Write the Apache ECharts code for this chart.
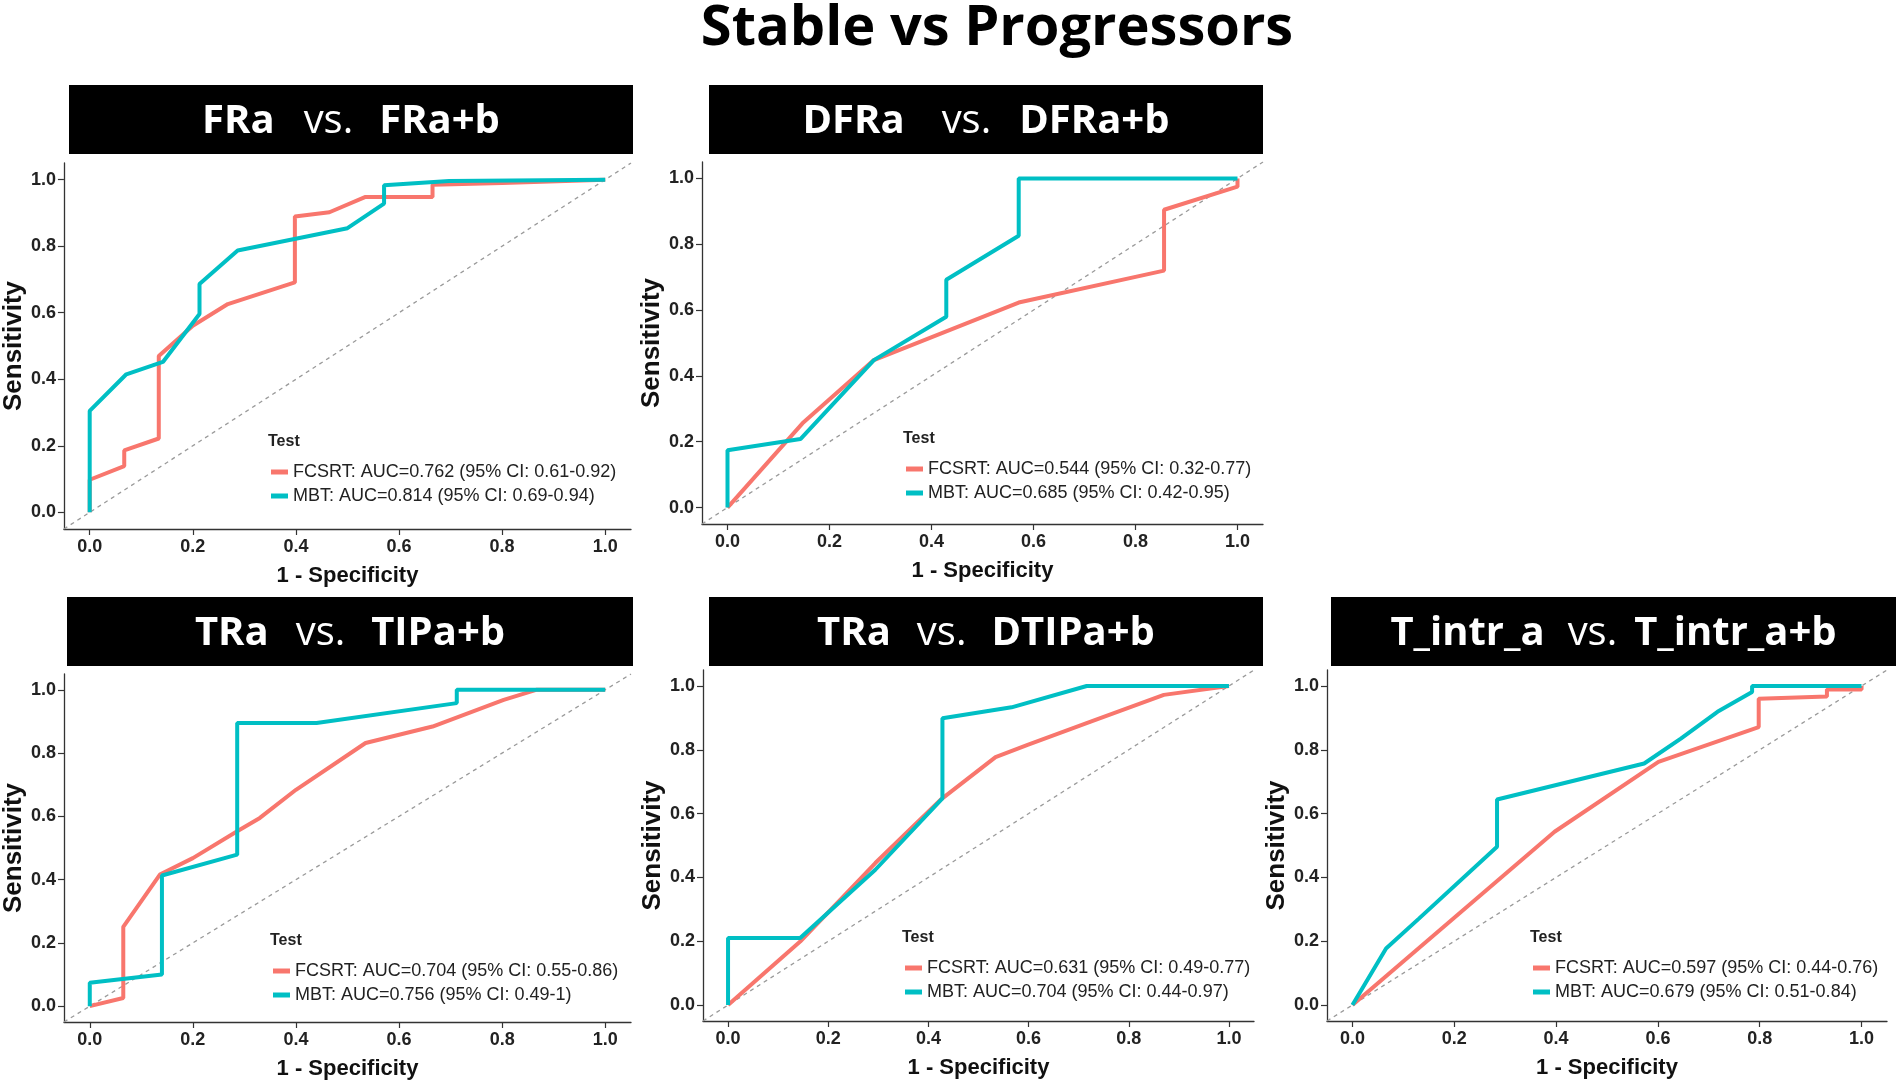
<!DOCTYPE html>
<html>
<head>
<meta charset="utf-8">
<script src="https://cdn.jsdelivr.net/npm/echarts@6/dist/echarts.min.js"></script>
<style>
html, body { margin: 0; padding: 0; background: #fff; }
#chart { width: 1902px; height: 1089px; }
</style>
</head>
<body>
<div id="chart"></div>
<script>
var mainTitle = 'Stable vs Progressors';
var panelLeft = ['FRa', 'DFRa', 'TRa', 'TRa', 'T_intr_a'];
var panelRight = ['FRa+b', 'DFRa+b', 'TIPa+b', 'DTIPa+b', 'T_intr_a+b'];
var fcsrtLabels = [
  'FCSRT: AUC=0.762 (95% CI: 0.61-0.92)',
  'FCSRT: AUC=0.544 (95% CI: 0.32-0.77)',
  'FCSRT: AUC=0.704 (95% CI: 0.55-0.86)',
  'FCSRT: AUC=0.631 (95% CI: 0.49-0.77)',
  'FCSRT: AUC=0.597 (95% CI: 0.44-0.76)'
];
var mbtLabels = [
  'MBT: AUC=0.814 (95% CI: 0.69-0.94)',
  'MBT: AUC=0.685 (95% CI: 0.42-0.95)',
  'MBT: AUC=0.756 (95% CI: 0.49-1)',
  'MBT: AUC=0.704 (95% CI: 0.44-0.97)',
  'MBT: AUC=0.679 (95% CI: 0.51-0.84)'
];
var tickValues = [0, 0.2, 0.4, 0.6, 0.8, 1];
var diagonal = [[-0.05, -0.05], [1.05, 1.05]];

// ROC points [1 - specificity, sensitivity]
var fcsrt1 = [[0,0],[0,0.098],[0.067,0.139],[0.067,0.186],[0.134,0.222],[0.134,0.47],[0.2,0.561],[0.268,0.626],[0.398,0.691],[0.398,0.889],[0.465,0.902],[0.535,0.948],[0.665,0.948],[0.665,0.985],[0.8,0.99],[1,1]];
var mbt1 = [[0,0],[0,0.305],[0.071,0.415],[0.142,0.452],[0.213,0.596],[0.213,0.686],[0.287,0.787],[0.5,0.854],[0.571,0.928],[0.571,0.983],[0.697,0.996],[1,1]];

var fcsrt2 = [[0,0],[0.147,0.256],[0.287,0.448],[0.571,0.623],[0.856,0.72],[0.856,0.905],[1,0.975],[1,1]];
var mbt2 = [[0,0],[0,0.174],[0.143,0.208],[0.287,0.448],[0.429,0.58],[0.429,0.692],[0.571,0.826],[0.571,1],[1,1]];

var fcsrt3 = [[0,0],[0.065,0.026],[0.065,0.251],[0.136,0.416],[0.2,0.468],[0.286,0.553],[0.33,0.595],[0.4,0.684],[0.535,0.832],[0.665,0.884],[0.803,0.968],[0.866,1],[1,1]];
var mbt3 = [[0,0],[0,0.074],[0.14,0.1],[0.14,0.413],[0.286,0.479],[0.286,0.895],[0.44,0.895],[0.712,0.958],[0.712,1],[1,1]];

var fcsrt4 = [[0,0],[0.144,0.199],[0.294,0.445],[0.424,0.643],[0.534,0.777],[0.598,0.815],[0.724,0.888],[0.87,0.972],[1,1]];
var mbt4 = [[0,0],[0,0.21],[0.144,0.21],[0.294,0.424],[0.428,0.648],[0.428,0.899],[0.566,0.933],[0.716,1],[1,1]];

var fcsrt5 = [[0,0],[0.397,0.543],[0.601,0.762],[0.798,0.871],[0.798,0.96],[0.932,0.967],[0.932,0.989],[1,0.989],[1,1]];
var mbt5 = [[0,0],[0.066,0.177],[0.13,0.27],[0.284,0.496],[0.284,0.644],[0.573,0.757],[0.645,0.835],[0.717,0.919],[0.785,0.981],[0.785,1],[1,1]];

var fcsrtData = [fcsrt1, fcsrt2, fcsrt3, fcsrt4, fcsrt5];
var mbtData = [mbt1, mbt2, mbt3, mbt4, mbt5];

var RED = '#F8766D';
var CYAN = '#00BFC4';
var FONT = "'Liberation Sans', Arial, sans-serif";
var HFONT = "'Open Sans', Roboto, 'Liberation Sans', sans-serif";

// panel layout: plot rect, header box, legend anchor, gaps around "vs."
var panels = [
  {left: 61, top: 163, width: 570, height: 366, box: [69, 85, 564, 69], leg: [271, 442], gap: [29, 26]},
  {left: 702, top: 162, width: 561, height: 362, box: [709, 85, 554, 69], leg: [906, 439], gap: [37, 28]},
  {left: 64, top: 674, width: 567, height: 348, box: [67, 597, 566, 69], leg: [273, 941], gap: [27, 26]},
  {left: 703, top: 670, width: 551, height: 351, box: [709, 597, 554, 69], leg: [905, 938], gap: [26, 25]},
  {left: 1327, top: 670, width: 560, height: 351, box: [1331, 597, 565, 69], leg: [1533, 938], gap: [23, 17]}
];

var chart = echarts.init(document.getElementById('chart'), null, {renderer: 'canvas'});

var grid = [], xAxis = [], yAxis = [], series = [], legend = [], graphic = [];

graphic.push({
  type: 'text', x: 997, y: 29,
  style: {text: mainTitle, fontSize: 56, fontWeight: 'bold', fontFamily: HFONT, fill: '#000', align: 'center', verticalAlign: 'middle'}
});

panels.forEach(function (p, i) {
  grid.push({left: p.left, top: p.top, width: p.width, height: p.height, containLabel: false});
  var axisCommon = {
    gridIndex: i, type: 'value', min: -0.05, max: 1.05,
    splitLine: {show: false},
    axisLine: {show: true, onZero: false, lineStyle: {color: '#333', width: 1.3}},
    axisTick: {show: true, length: 6, customValues: tickValues, lineStyle: {color: '#333', width: 1.2}},
    axisLabel: {customValues: tickValues, formatter: function (v) { return v.toFixed(1); },
      fontWeight: 'bold', fontSize: 18, color: '#222', fontFamily: FONT},
    nameLocation: 'middle',
    nameTextStyle: {fontWeight: 'bold', color: '#111', fontFamily: FONT}
  };
  xAxis.push(echarts.util.merge({
    name: '1 - Specificity', nameGap: 36,
    axisLabel: {margin: 9}, nameTextStyle: {fontSize: 22}
  }, axisCommon));
  yAxis.push(echarts.util.merge({
    name: 'Sensitivity', nameGap: 32,
    axisLabel: {margin: 8}, nameTextStyle: {fontSize: 26}
  }, axisCommon));

  series.push({
    type: 'line', name: 'ref' + i, xAxisIndex: i, yAxisIndex: i, data: diagonal,
    symbol: 'none', silent: true, z: 1,
    lineStyle: {color: '#9a9a9a', width: 1.3, type: [4, 4]}
  });
  series.push({
    type: 'line', name: fcsrtLabels[i], xAxisIndex: i, yAxisIndex: i, data: fcsrtData[i],
    symbol: 'none', z: 2, color: RED, itemStyle: {color: RED},
    lineStyle: {color: RED, width: 4}
  });
  series.push({
    type: 'line', name: mbtLabels[i], xAxisIndex: i, yAxisIndex: i, data: mbtData[i],
    symbol: 'none', z: 3, color: CYAN, itemStyle: {color: CYAN},
    lineStyle: {color: CYAN, width: 4}
  });

  legend.push({
    orient: 'vertical', left: p.leg[0], top: p.leg[1] + 20, padding: 0,
    itemWidth: 17, itemHeight: 5, icon: 'rect', itemGap: 4, selectedMode: false,
    data: [fcsrtLabels[i], mbtLabels[i]],
    textStyle: {fontSize: 18, color: '#222', lineHeight: 20, fontFamily: FONT}
  });

  graphic.push({
    type: 'rect', shape: {x: p.box[0], y: p.box[1], width: p.box[2], height: p.box[3]},
    style: {fill: '#000'}
  });
  graphic.push({
    type: 'text', x: p.box[0] + p.box[2] / 2, y: p.box[1] + p.box[3] / 2 + 2,
    style: {
      text: '{b|' + panelLeft[i] + '}{n|vs.}{b|' + panelRight[i] + '}',
      align: 'center', verticalAlign: 'middle', fill: '#fff',
      rich: {
        b: {fontSize: 40, fontWeight: 'bold', fontFamily: HFONT, fill: '#fff'},
        n: {fontSize: 40, fontFamily: HFONT, fill: '#fff', padding: [0, p.gap[1], 0, p.gap[0]]}
      }
    }
  });
  graphic.push({
    type: 'text', x: p.leg[0] - 3, y: p.leg[1],
    style: {text: 'Test', fontSize: 16, fontWeight: 'bold', fontFamily: FONT, fill: '#222', align: 'left', verticalAlign: 'middle'}
  });
});

chart.setOption({
  backgroundColor: '#fff',
  animation: false,
  grid: grid,
  xAxis: xAxis,
  yAxis: yAxis,
  legend: legend,
  series: series,
  graphic: graphic
});

window.onresize = function () {
  chart.resize();
};
</script>
</body>
</html>
